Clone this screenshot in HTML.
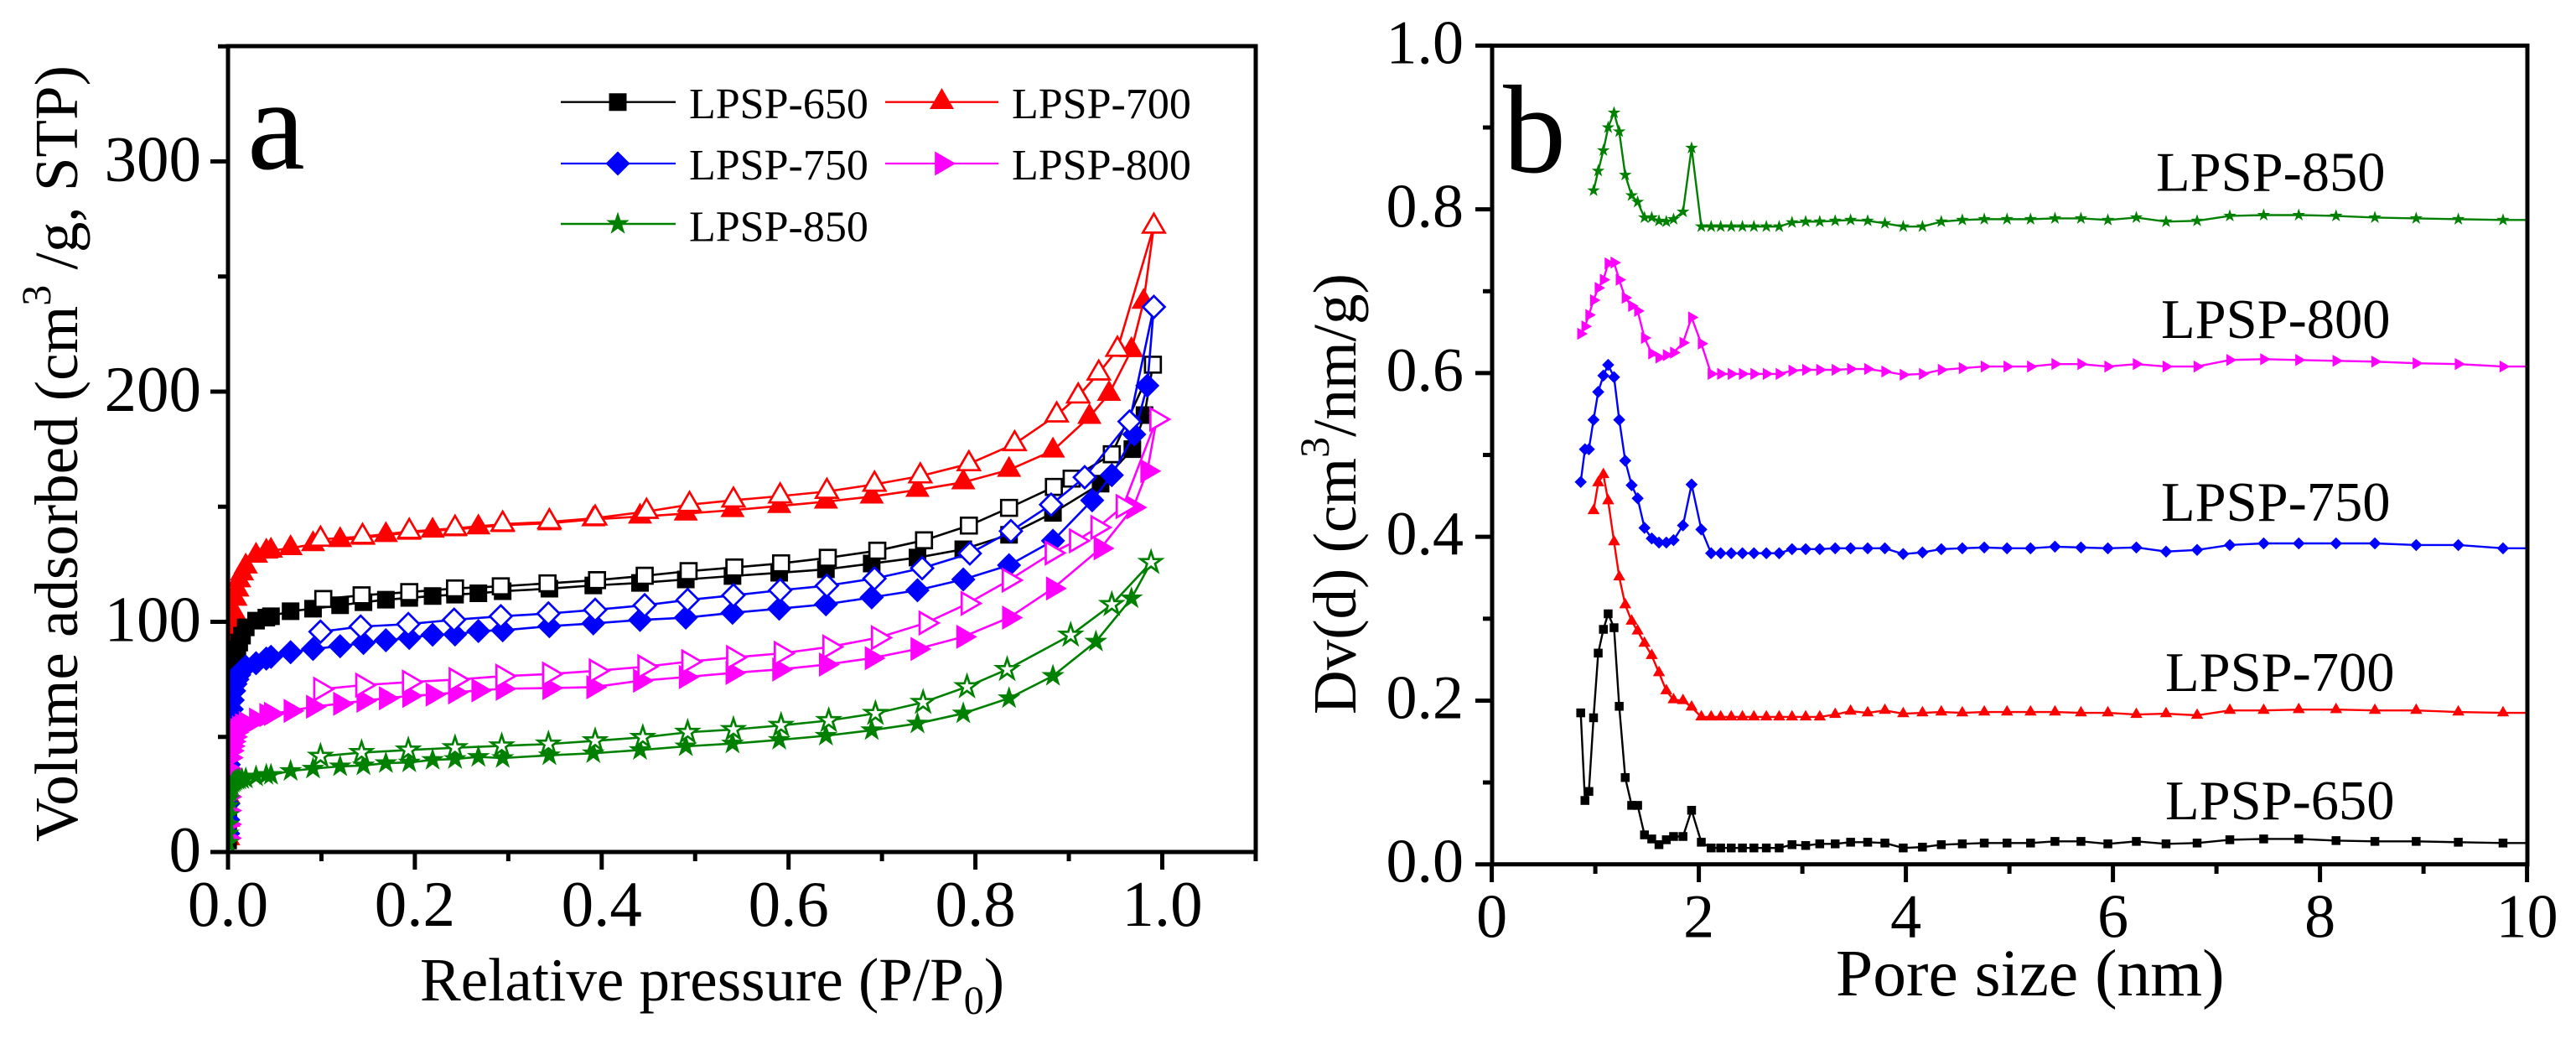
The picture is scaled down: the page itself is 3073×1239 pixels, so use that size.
<!DOCTYPE html>
<html lang="en">
<head>
<meta charset="utf-8">
<title>LPSP isotherms and pore size distribution</title>
<style>
html,body{margin:0;padding:0;background:#fff;width:3073px;height:1239px;overflow:hidden}
svg{display:block}
text{font-family:"Liberation Serif","Times New Roman",serif;fill:#000}
</style>
</head>
<body>
<svg id="chart" xmlns="http://www.w3.org/2000/svg" width="3073" height="1239" viewBox="0 0 3073 1239">
  <defs>
    <clipPath id="clip-a"><rect x="272" y="55" width="1226" height="961"/></clipPath>
    <clipPath id="clip-b"><rect x="1780" y="54" width="1235" height="977"/></clipPath>
  </defs>
  <rect x="0" y="0" width="3073" height="1239" fill="#fff"/>

  <g id="panel-a">
    <g id="marks-a" clip-path="url(#clip-a)"></g>
    <rect x="272" y="55" width="1226" height="961" fill="none" stroke="#000" stroke-width="5"/>
    <g id="ticks-a"></g>
    <text x="295" y="201" font-size="155">a</text>
    <text x="501" y="1193" font-size="73">Relative pressure (P/P<tspan font-size="48" dy="16">0</tspan><tspan dy="-16">)</tspan></text>
    <text transform="translate(92,1004) rotate(-90)" font-size="73">Volume adsorbed (cm<tspan font-size="50" dy="-32">3</tspan><tspan dy="32"> /g, STP)</tspan></text>
    <g id="legend">
      <line x1="669" y1="121.7" x2="806" y2="121.7" stroke="#000" stroke-width="2.3"/>
      <line x1="1056" y1="121.7" x2="1191" y2="121.7" stroke="#f00" stroke-width="2.3"/>
      <line x1="669" y1="195" x2="806" y2="195" stroke="#00f" stroke-width="2.3"/>
      <line x1="1056" y1="195" x2="1191" y2="195" stroke="#f0f" stroke-width="2.3"/>
      <line x1="669" y1="267" x2="806" y2="267" stroke="#008000" stroke-width="2.6"/>
      <text x="822" y="141" font-size="52">LPSP-650</text>
      <text x="1207" y="141" font-size="52">LPSP-700</text>
      <text x="822" y="214" font-size="52">LPSP-750</text>
      <text x="1207" y="214" font-size="52">LPSP-800</text>
      <text x="822" y="287.5" font-size="52">LPSP-850</text>
    </g>
  </g>

  <g id="panel-b">
    <g id="marks-b" clip-path="url(#clip-b)"></g>
    <rect x="1780" y="54.4" width="1235" height="976.3" fill="none" stroke="#000" stroke-width="5"/>
    <g id="ticks-b"></g>
    <text x="1793" y="205" font-size="150">b</text>
    <text x="2190" y="1187" font-size="79.5">Pore size (nm)</text>
    <text transform="translate(1617,852) rotate(-90)" font-size="73">Dv(d) (cm<tspan font-size="50" dy="-32">3</tspan><tspan dy="32">/nm/g)</tspan></text>
    <text x="2572" y="227.5" font-size="66.5">LPSP-850</text>
    <text x="2578" y="403" font-size="66.5">LPSP-800</text>
    <text x="2578" y="621" font-size="66.5">LPSP-750</text>
    <text x="2583" y="824" font-size="66.5">LPSP-700</text>
    <text x="2583" y="977" font-size="66.5">LPSP-650</text>
  </g>
</svg>
<script>
// ---------- Panel a data: relative pressure and volume adsorbed ----------
const adsorptionP = [.0001,.0002,.0003,.0005,.0008,.0012,.002,.003,.004,.005,.0065,.008,.010,.012,.015,
  .019,.030,.041,.046,.067,.091,.120,.145,.169,.194,.219,.243,.268,.294,.344,.391,.441,.490,.540,.590,.640,.689,.738,.787,.836,.883];

const ads650 = [5,10,16,24,34,44,56,66,72,76,80,85,88,91,94,97.6,100.5,101.8,102.4,104.6,105.7,107.2,108.5,109.6,110.4,111.2,111.8,112.4,113.3,114.4,115.8,116.9,118.4,119.9,121.3,122.8,125.3,127.9,131.5,137.8,147.3];
const ads700 = [6,14,24,36,48,60,74,85,92,98,104,110,114,118,121,124,128.7,130.5,130.9,132,133.7,135.5,136.5,137.7,138.7,139.6,140.2,141,142,142.8,144.5,145.7,147,148.5,150.3,152.2,154.4,157.3,160.6,166,174.4];
const ads750 = [8,14,21,30,38,45,52,58,62,66,70,73,75,77,79,80.5,82,84,84.8,86.8,88.2,89.4,90.8,92,93,94.4,94.5,96,96.3,98.1,99.3,100.8,101.8,103.9,105.7,107.6,110.6,113.7,118.4,124.6,135.2];
const ads800 = [6,12,18,24,30,36,41,44,46,48,50,52,53,54,55,56,57.5,59.5,60,61.3,63.1,64.4,65.7,66.8,67.8,68.4,69.3,70.2,70.9,71.2,71.6,74.4,76,77.8,79.3,81.4,84.2,88.2,93.5,101.8,114.5];
const ads850 = [4,8,12,16,20,23,26,28,29,30,30.5,31,31.3,31.5,31.7,31.9,32.8,33.5,33.5,35.2,36.2,37.2,37.6,38.6,38.9,40,40.4,41.3,40.8,42,42.9,44.3,45.9,47.1,48.7,50.5,52.9,55.8,60.2,66.8,76.5];

const adsTailP650 = [.934,.968,.981];
const adsTailV650 = [160,175,189.8];
const adsTailP700 = [.922,.943,.967,.980];
const adsTailV700 = [189,199,218,239];
const adsTailP750 = [.925,.946,.970,.984];
const adsTailV750 = [152.8,163.7,181.4,202.6];
const adsTailP800 = [.934,.969,.984];
const adsTailV800 = [131.9,149.7,165.5];
const adsTailP850 = [.929,.967];
const adsTailV850 = [91.4,110.2];

const desP650 = [.102,.143,.194,.243,.292,.342,.395,.446,.493,.542,.592,.642,.695,.745,.793,.836,.884,.903,.946,.990];
const desV650 = [109.9,111.5,112.9,114.5,115.4,116.7,118.1,120,122,123.6,125.4,127.8,130.9,135.4,141.8,149.5,158.6,162.2,172.8,211.7];
const desP700 = [.099,.144,.194,.243,.294,.344,.393,.448,.494,.541,.591,.641,.692,.741,.793,.842,.887,.910,.932,.952,.991];
const desV700 = [135.8,137,139.2,140.6,142.4,143.4,145,147.9,150.9,152.8,154.6,156.6,159.7,163.3,168.6,177.3,189.8,198,208,218.3,271.8];
const desP750 = [.099,.142,.193,.242,.292,.343,.393,.446,.492,.541,.591,.641,.692,.743,.794,.838,.881,.917,.965,.991];
const desV750 = [95.7,97.9,99,100.9,102.4,103.6,105.2,107.2,109.5,111.5,113.7,115.7,118.8,123.3,129.7,139.4,150.9,162.8,187,236.8];
const desP800 = [.099,.144,.194,.244,.294,.344,.394,.446,.493,.541,.592,.644,.696,.747,.792,.836,.882,.908,.931,.958,.994];
const desV800 = [70.7,72.5,73.8,74.9,76.4,77.3,78.7,80.5,82.7,84.5,86.3,89.1,93.1,99.5,108,118.1,129.9,135.2,141,150.1,188];
const desP850 = [.099,.143,.193,.243,.293,.343,.393,.444,.492,.541,.592,.643,.693,.744,.791,.834,.902,.946,.988];
const desV850 = [41.6,43.2,44.3,45.3,46.1,46.9,48.3,49.8,52,53.2,55,57.1,60.2,65,71.8,79.3,94.2,107.5,125.8];

// ---------- Panel b data: pore size and Dv(d) ----------
const poreSizes = [.859,.900,.938,.983,1.028,1.078,1.124,1.181,1.231,1.289,1.351,1.409,1.475,1.545,1.615,1.686,1.756,1.847,1.930,2.024,
  2.119,2.211,2.313,2.421,2.532,2.652,2.776,2.900,3.032,3.168,3.317,3.466,3.631,3.797,3.974,4.160,4.342,4.545,
  4.757,4.977,5.204,5.440,5.691,5.951,6.226,6.513,6.813,7.129,7.456,7.795,8.155,8.530,8.929,9.336,9.768,10.22];

const dv650 = [.185,.078,.089,.179,.258,.287,.306,.289,.193,.106,.072,.072,.036,.031,.024,.030,.034,.034,.066,.027,
  .020,.020,.020,.020,.020,.020,.020,.024,.023,.025,.025,.027,.027,.026,.020,.021,.024,.025,
  .026,.026,.026,.028,.028,.025,.028,.025,.026,.030,.031,.031,.029,.028,.028,.027,.026,.026];
const dv700 = [.432,.466,.476,.444,.394,.351,.317,.297,.285,.270,.255,.234,.212,.201,.200,.192,.180,
  .180,.180,.180,.180,.180,.180,.180,.180,.180,.180,.183,.187,.185,.188,.184,.185,.186,.185,
  .186,.186,.186,.186,.185,.185,.183,.184,.182,.188,.188,.189,.189,.188,.188,.186,.185,.185];
const dv750 = [.467,.507,.507,.543,.577,.597,.610,.595,.543,.493,.463,.447,.411,.398,.393,.393,.396,.414,.464,.409,
  .380,.380,.380,.380,.380,.380,.380,.385,.385,.385,.386,.386,.386,.386,.379,.381,.385,.386,
  .387,.386,.386,.388,.387,.386,.387,.382,.384,.390,.392,.392,.392,.392,.390,.390,.386,.386];
const dv800 = [.648,.657,.671,.689,.704,.714,.734,.735,.714,.692,.682,.676,.643,.624,.619,.622,.625,.637,.668,.636,
  .599,.599,.599,.599,.599,.599,.599,.603,.604,.604,.604,.605,.605,.602,.598,.599,.604,.606,
  .608,.608,.608,.611,.611,.608,.611,.608,.608,.616,.617,.616,.615,.614,.612,.611,.608,.608];
const dv850 = [.823,.847,.872,.900,.918,.895,.842,.817,.809,.790,.790,.786,.785,.788,.797,.875,.779,
  .779,.779,.779,.779,.779,.779,.779,.784,.785,.785,.786,.787,.786,.783,.779,.779,.785,.787,
  .788,.788,.788,.789,.789,.787,.790,.785,.786,.792,.793,.793,.792,.790,.789,.788,.787,.787];

// ---------- Tick labels ----------
const xTicksA = [0,0.2,0.4,0.6,0.8,1.0];
const xMinorA = [0.1,0.3,0.5,0.7,0.9,1.1];
const xTickLabelsA = ['0.0','0.2','0.4','0.6','0.8','1.0'];
const yTicksA = [0,100,200,300];
const yMinorA = [50,150,250,350];
const yTickLabelsA = ['0','100','200','300'];
const xTicksB = [0,2,4,6,8,10];
const xMinorB = [1,3,5,7,9];
const xTickLabelsB = ['0','2','4','6','8','10'];
const yTicksB = [0,0.2,0.4,0.6,0.8,1.0];
const yMinorB = [0.1,0.3,0.5,0.7,0.9];
const yTickLabelsB = ['0.0','0.2','0.4','0.6','0.8','1.0'];

// ---------- Axis functions ----------
function xA(p){ return 272 + 1114.5 * p; }
function yA(v){ return 1016 - 2.745 * v; }
function xB(d){ return 1779.6 + 123.5 * d; }
function yB(v){ return 1030.7 - 976.3 * v; }

const NS = 'http://www.w3.org/2000/svg';
function mk(parent, tag){
  const el = document.createElementNS(NS, tag);
  parent.appendChild(el);
  return el;
}

function shapePath(shape, x, y, k){
  if(shape === 'square'){
    const h = 10.5 * k;
    return `M${x-h} ${y-h}H${x+h}V${y+h}H${x-h}Z`;
  }
  if(shape === 'triangle'){
    return `M${x} ${y-16.7*k}L${x+14.5*k} ${y+8.3*k}H${x-14.5*k}Z`;
  }
  if(shape === 'diamond'){
    const h = 14.5 * k;
    return `M${x} ${y-h}L${x+h} ${y}L${x} ${y+h}L${x-h} ${y}Z`;
  }
  if(shape === 'right'){
    return `M${x-8.3*k} ${y-14.5*k}L${x+16.7*k} ${y}L${x-8.3*k} ${y+14.5*k}Z`;
  }
  let d = '';
  for(let i = 0; i < 10; i++){
    const r = (i % 2 ? 5.6 : 14.5) * k;
    const a = -Math.PI / 2 + i * Math.PI / 5;
    d += (i ? 'L' : 'M') + (x + r * Math.cos(a)).toFixed(2) + ' ' + (y + r * Math.sin(a)).toFixed(2);
  }
  return d + 'Z';
}

function addMarker(parent, shape, x, y, k, color, open){
  const el = mk(parent, 'path');
  el.setAttribute('d', shapePath(shape, x, y, open ? k * 0.9 : k));
  el.setAttribute('fill', open ? '#fff' : color);
  el.setAttribute('stroke', color);
  el.setAttribute('stroke-width', open ? 2.7 : 0);
  
  
}

function addLine(parent, xs, ys, color, width){
  const el = mk(parent, 'path');
  let d = '';
  xs.forEach(function(x, i){ d += (i ? 'L' : 'M') + x.toFixed(2) + ' ' + ys[i].toFixed(2); });
  el.setAttribute('d', d);
  el.setAttribute('fill', 'none');
  el.setAttribute('stroke', color);
  el.setAttribute('stroke-width', width);
  el.setAttribute('stroke-linejoin', 'round');
  
  
}

function addTick(parent, x1, y1, x2, y2){
  const el = mk(parent, 'line');
  el.setAttribute('x1', x1);
  el.setAttribute('y1', y1);
  el.setAttribute('x2', x2);
  el.setAttribute('y2', y2);
  el.setAttribute('stroke', '#000');
  el.setAttribute('stroke-width', 5);
  
  
}

function addLabel(parent, x, y, size, anchor, str){
  const el = mk(parent, 'text');
  el.setAttribute('x', x);
  el.setAttribute('y', y);
  el.setAttribute('font-size', size);
  el.setAttribute('text-anchor', anchor);
  el.textContent = str;
  
  
}

// ---------- Panel a ----------
const marksA = document.getElementById('marks-a');
function drawIsotherm(name, shape, color, adsV, tailP, tailV, desP, desV){
  const g = mk(marksA, 'g');
  
  
  const pA = adsorptionP.concat(tailP);
  const vA = adsV.concat(tailV);
  const allP = pA.concat(desP.slice().reverse());
  const allV = vA.concat(desV.slice().reverse());
  addLine(g, allP.map(xA), allV.map(yA), color, 2.6);
  pA.forEach(function(p, i){ addMarker(g, shape, xA(p), yA(vA[i]), 1, color, false); });
  desP.forEach(function(p, i){ addMarker(g, shape, xA(p), yA(desV[i]), 1, color, true); });
}
drawIsotherm('lpsp-700', 'triangle', '#f00', ads700, adsTailP700, adsTailV700, desP700, desV700);
drawIsotherm('lpsp-650', 'square', '#000', ads650, adsTailP650, adsTailV650, desP650, desV650);
drawIsotherm('lpsp-750', 'diamond', '#00f', ads750, adsTailP750, adsTailV750, desP750, desV750);
drawIsotherm('lpsp-800', 'right', '#f0f', ads800, adsTailP800, adsTailV800, desP800, desV800);
drawIsotherm('lpsp-850', 'star', '#008000', ads850, adsTailP850, adsTailV850, desP850, desV850);

const ticksA = document.getElementById('ticks-a');
xTicksA.forEach(function(t, i){
  addTick(ticksA, xA(t), 1016, xA(t), 1037);
  addLabel(ticksA, xA(t), 1104, 77, 'middle', xTickLabelsA[i]);
});
xMinorA.forEach(function(t){ addTick(ticksA, xA(t), 1016, xA(t), 1027); });
yTicksA.forEach(function(t, i){
  addTick(ticksA, 272, yA(t), 251, yA(t));
  addLabel(ticksA, 240, yA(t) + 23, 77, 'end', yTickLabelsA[i]);
});
yMinorA.forEach(function(t){ addTick(ticksA, 272, yA(t), 260, yA(t)); });

const legend = document.getElementById('legend');
addMarker(legend, 'square', 737, 121.7, 1, '#000', false);
addMarker(legend, 'triangle', 1123.5, 121.7, 1, '#f00', false);
addMarker(legend, 'diamond', 737, 195, 1, '#00f', false);
addMarker(legend, 'right', 1123.5, 195, 1, '#f0f', false);
addMarker(legend, 'star', 737, 267, 1, '#008000', false);

// ---------- Panel b ----------
const marksB = document.getElementById('marks-b');
function drawPore(name, shape, color, values, scale){
  const g = mk(marksB, 'g');
  
  
  const sizes = poreSizes.slice(poreSizes.length - values.length);
  addLine(g, sizes.map(xB), values.map(yB), color, 2.4);
  sizes.forEach(function(d, i){ addMarker(g, shape, xB(d), yB(values[i]), scale, color, false); });
}
drawPore('lpsp-650', 'square', '#000', dv650, 0.5);
drawPore('lpsp-700', 'triangle', '#f00', dv700, 0.5);
drawPore('lpsp-750', 'diamond', '#00f', dv750, 0.5);
drawPore('lpsp-800', 'right', '#f0f', dv800, 0.5);
drawPore('lpsp-850', 'star', '#008000', dv850, 0.56);

const ticksB = document.getElementById('ticks-b');
xTicksB.forEach(function(t, i){
  addTick(ticksB, xB(t), 1030.7, xB(t), 1052);
  addLabel(ticksB, xB(t), 1117.5, 74, 'middle', xTickLabelsB[i]);
});
xMinorB.forEach(function(t){ addTick(ticksB, xB(t), 1030.7, xB(t), 1042); });
yTicksB.forEach(function(t, i){
  addTick(ticksB, 1780, yB(t), 1760, yB(t));
  addLabel(ticksB, 1746, yB(t) + 21, 74, 'end', yTickLabelsB[i]);
});
yMinorB.forEach(function(t){ addTick(ticksB, 1780, yB(t), 1769, yB(t)); });
</script>
</body>
</html>
